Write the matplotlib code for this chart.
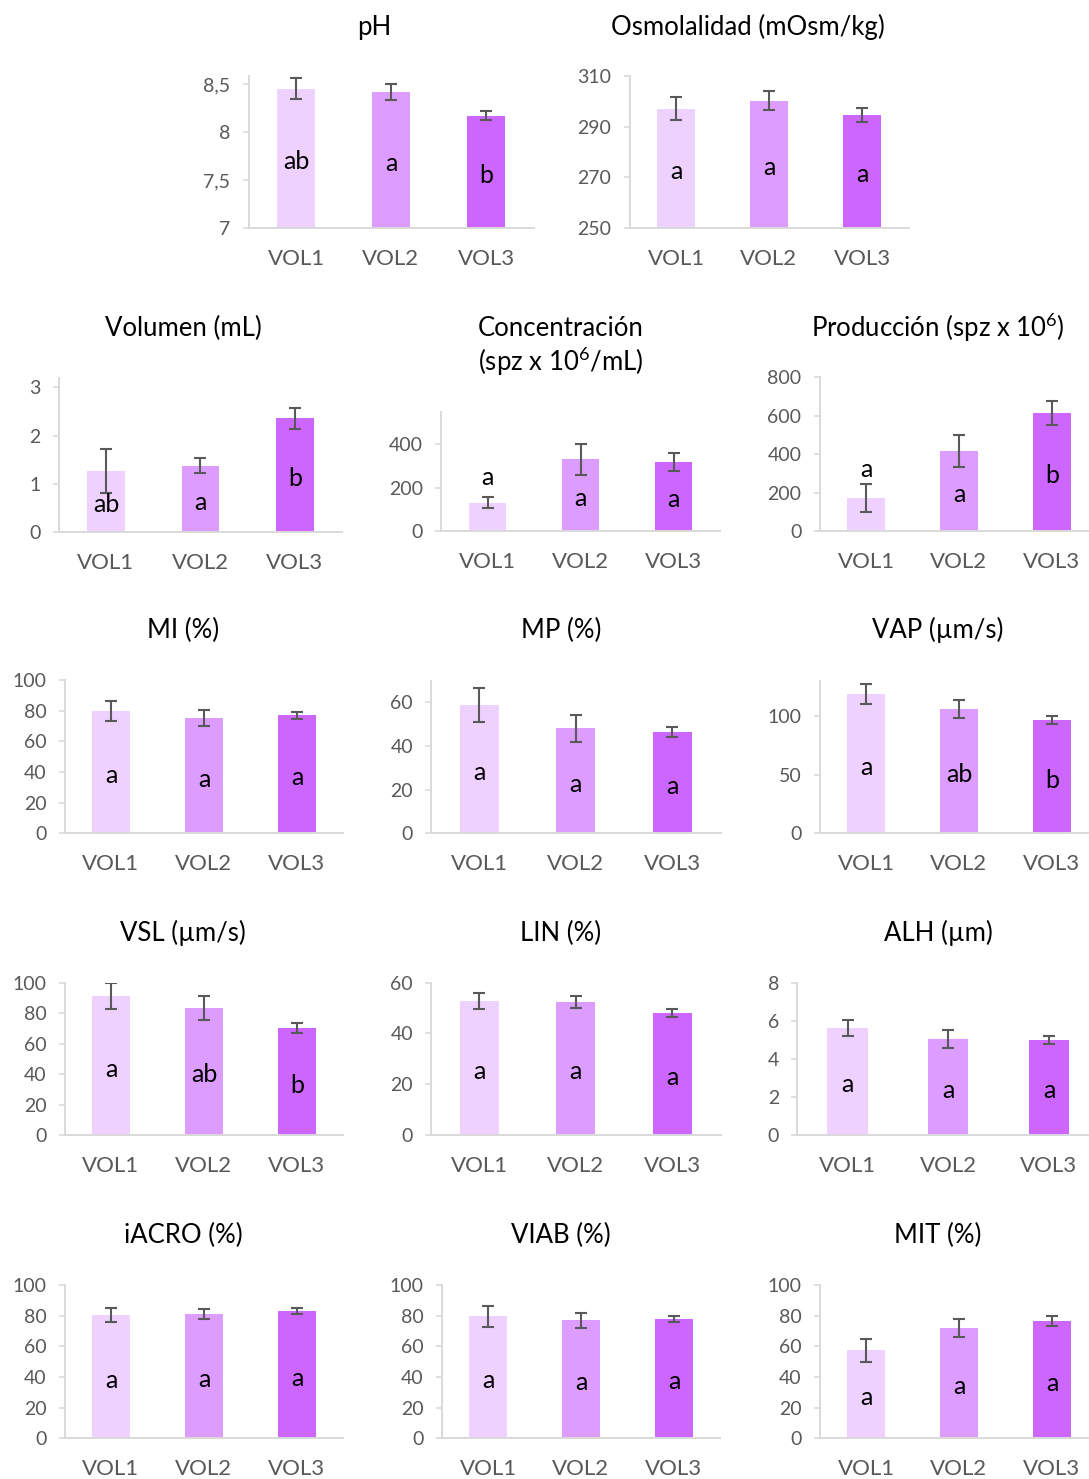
import matplotlib
matplotlib.use("Agg")
import matplotlib.pyplot as plt
from matplotlib.ticker import FuncFormatter

plt.rcParams["font.family"] = ["Lato", "DejaVu Sans"]
plt.rcParams["mathtext.fontset"] = "custom"
plt.rcParams["mathtext.rm"] = "Lato"
plt.rcParams["mathtext.it"] = "Lato"
plt.rcParams["mathtext.bf"] = "Lato"

# ---------------- data ----------------
groups = ["VOL1", "VOL2", "VOL3"]

ph_mean = [8.45, 8.42, 8.17]
ph_err = [0.11, 0.085, 0.05]
ph_letters = ["ab", "a", "b"]

osm_mean = [297.1, 300.2, 294.7]
osm_err = [4.5, 3.7, 2.7]
osm_letters = ["a", "a", "a"]

vol_mean = [1.26, 1.37, 2.36]
vol_err = [0.46, 0.155, 0.22]
vol_letters = ["ab", "a", "b"]

conc_mean = [130, 332, 319]
conc_err = [26, 72, 42]
conc_letters = ["a", "a", "a"]

prod_mean = [172, 417, 613]
prod_err = [75, 85, 62]
prod_letters = ["a", "a", "b"]

mi_mean = [79.8, 75.2, 77.0]
mi_err = [6.4, 5.4, 2.2]
mi_letters = ["a", "a", "a"]

mp_mean = [58.8, 48.2, 46.4]
mp_err = [7.6, 6.2, 2.5]
mp_letters = ["a", "a", "a"]

vap_mean = [118.5, 105.7, 96.3]
vap_err = [8.2, 7.8, 3.2]
vap_letters = ["a", "ab", "b"]

vsl_mean = [91.2, 83.4, 70.2]
vsl_err = [8.5, 8.0, 3.4]
vsl_letters = ["a", "ab", "b"]

lin_mean = [52.8, 52.4, 48.1]
lin_err = [3.0, 2.3, 1.6]
lin_letters = ["a", "a", "a"]

alh_mean = [5.64, 5.06, 5.01]
alh_err = [0.42, 0.46, 0.22]
alh_letters = ["a", "a", "a"]

iacro_mean = [80.4, 81.1, 83.0]
iacro_err = [4.6, 3.2, 1.8]
iacro_letters = ["a", "a", "a"]

viab_mean = [79.6, 77.0, 78.0]
viab_err = [6.8, 5.0, 2.0]
viab_letters = ["a", "a", "a"]

mit_mean = [57.5, 72.0, 76.5]
mit_err = [7.5, 6.0, 3.5]
mit_letters = ["a", "a", "a"]

# ---------------- style ----------------
W, H = 1089, 1479
bar_colors = ["#EED1FF", "#DD9CFF", "#CC66FF"]
axis_gray = "#D9D9D9"
text_gray = "#595959"
err_gray = "#595959"

fig = plt.figure(figsize=(W / 100, H / 100), dpi=100)
fig.patch.set_facecolor("white")


def comma(v, _pos):
    s = f"{v:g}"
    return s.replace(".", ",")


# layout: (title lines, title centre px, mean, err, letters, box px (l, r, top, bottom),
#          ylim, yticks, {bar index: offset in points above the error bar})
panels = [
    (["pH"], (374, 27), ph_mean, ph_err, ph_letters, (248.5, 533.5, 76.3, 228), (7, 8.58),
     [7, 7.5, 8, 8.5], {}),
    (["Osmolalidad (mOsm/kg)"], (748, 27), osm_mean, osm_err, osm_letters,
     (629.5, 908.5, 76, 228), (250, 310), [250, 270, 290, 310], {}),
    (["Volumen (mL)"], (183, 328), vol_mean, vol_err, vol_letters,
     (58.7, 342.2, 377.8, 531.7), (0, 3.2), [0, 1, 2, 3], {}),
    (["Concentración", "(spz x 10$^{6}$/mL)"], (561, 328), conc_mean, conc_err, conc_letters,
     (441.2, 720.2, 412, 531), (0, 550), [0, 200, 400], {0: 14.5}),
    (["Producción (spz x 10$^{6}$)"], (938, 328), prod_mean, prod_err, prod_letters,
     (819.5, 1098.5, 377.3, 531), (0, 800), [0, 200, 400, 600, 800], {0: 10}),
    (["MI (%)"], (183, 630), mi_mean, mi_err, mi_letters,
     (64.5, 343.5, 680, 833.3), (0, 100), [0, 20, 40, 60, 80, 100], {}),
    (["MP (%)"], (561, 630), mp_mean, mp_err, mp_letters,
     (431, 720.5, 680.5, 833.3), (0, 70), [0, 20, 40, 60], {}),
    (["VAP (µm/s)"], (938, 630), vap_mean, vap_err, vap_letters,
     (819.5, 1098.5, 680.5, 833.3), (0, 130), [0, 50, 100], {}),
    (["VSL (µm/s)"], (183, 933), vsl_mean, vsl_err, vsl_letters,
     (64.5, 343.5, 982.7, 1135), (0, 100), [0, 20, 40, 60, 80, 100], {}),
    (["LIN (%)"], (561, 933), lin_mean, lin_err, lin_letters,
     (431, 720.5, 982.7, 1135), (0, 60), [0, 20, 40, 60], {}),
    (["ALH (µm)"], (938, 933), alh_mean, alh_err, alh_letters,
     (797.2, 1099.3, 983, 1135), (0, 8), [0, 2, 4, 6, 8], {}),
    (["iACRO (%)"], (183, 1235), iacro_mean, iacro_err, iacro_letters,
     (64.5, 343.5, 1285, 1438.3), (0, 100), [0, 20, 40, 60, 80, 100], {}),
    (["VIAB (%)"], (561, 1235), viab_mean, viab_err, viab_letters,
     (441.5, 720.5, 1285, 1438.3), (0, 100), [0, 20, 40, 60, 80, 100], {}),
    (["MIT (%)"], (938, 1235), mit_mean, mit_err, mit_letters,
     (819.5, 1098.5, 1285, 1438.3), (0, 100), [0, 20, 40, 60, 80, 100], {}),
]

TITLE_FS = 18.5
YTICK_FS = 14
XTICK_FS = 16
LETTER_FS = 18

for (title, tpos, mean, err, letters, box, ylim, yticks, above) in panels:
    l, r, t, b = box
    ax = fig.add_axes([l / W, 1 - b / H, (r - l) / W, (b - t) / H])
    x = list(range(len(groups)))
    ax.bar(x, [m - ylim[0] for m in mean], bottom=ylim[0], width=0.4,
           color=bar_colors, zorder=2)
    ax.errorbar(x, mean, yerr=err, fmt="none", ecolor=err_gray, elinewidth=1.5,
                capsize=4.3, capthick=1.5, zorder=3)
    ax.set_xlim(-0.5, 2.5)
    ax.set_ylim(*ylim)
    ax.set_yticks(yticks)
    ax.yaxis.set_major_formatter(FuncFormatter(comma))
    ax.set_xticks(x)
    ax.set_xticklabels(groups)
    for side in ("top", "right"):
        ax.spines[side].set_visible(False)
    for side in ("left", "bottom"):
        ax.spines[side].set_color(axis_gray)
        ax.spines[side].set_linewidth(1.4)
    ax.tick_params(axis="y", colors=axis_gray, labelcolor=text_gray, length=4,
                   width=1.2, labelsize=YTICK_FS, pad=9)
    ax.tick_params(axis="x", length=0, labelcolor=text_gray, labelsize=XTICK_FS, pad=15)
    ax.set_facecolor("none")
    for i, (m, e, lab) in enumerate(zip(mean, err, letters)):
        if i in above:
            ax.annotate(lab, (i, m + e), xytext=(0, above[i]), textcoords="offset points",
                        ha="center", va="center", fontsize=LETTER_FS, color="black",
                        zorder=4)
        else:
            ax.annotate(lab, (i, (ylim[0] + m) / 2), xytext=(0, -2.5),
                        textcoords="offset points", ha="center", va="center",
                        fontsize=LETTER_FS, color="black", zorder=4)
    tx, ty = tpos
    for k, line in enumerate(title):
        fig.text(tx / W, 1 - (ty + 34 * k) / H, line, ha="center", va="center",
                 fontsize=TITLE_FS, color="black")

fig.savefig("out.png", dpi=100, facecolor="white")
